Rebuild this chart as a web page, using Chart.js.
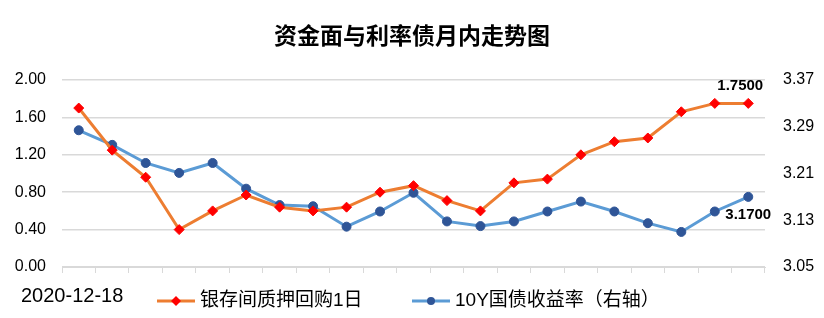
<!DOCTYPE html>
<html>
<head>
<meta charset="utf-8">
<script src="https://cdn.jsdelivr.net/npm/chart.js@4"></script>
<style>
  html, body { margin: 0; padding: 0; background: #fff; }
  #wrap { width: 824px; height: 318px; position: relative; }
</style>
</head>
<body>
<div id="wrap"><canvas id="chart" width="824" height="318"></canvas></div>
<script>
// 21 trading days (no labels shown on the axis)
const days = ['d1','d2','d3','d4','d5','d6','d7','d8','d9','d10','d11',
              'd12','d13','d14','d15','d16','d17','d18','d19','d20','d21'];
// 银存间质押回购1日 (left axis)
const repo = [1.70, 1.25, 0.96, 0.40, 0.60, 0.77, 0.64, 0.60, 0.64, 0.80, 0.87,
              0.71, 0.60, 0.90, 0.94, 1.20, 1.34, 1.38, 1.66, 1.75, 1.75];
// 10Y国债收益率 (right axis)
const bond = [3.284, 3.259, 3.228, 3.211, 3.228, 3.184, 3.156, 3.154, 3.119, 3.145, 3.177,
              3.128, 3.120, 3.128, 3.145, 3.162, 3.145, 3.125, 3.110, 3.145, 3.170];
const leftTicks = [0, 0.4, 0.8, 1.2, 1.6, 2.0];
const rightTicks = [3.05, 3.13, 3.21, 3.29, 3.37];
const title = '资金面与利率债月内走势图';
const dateText = '2020-12-18';
const seriesNames = ['银存间质押回购1日', '10Y国债收益率（右轴）'];

const cjk = '"Liberation Sans", "Noto Sans CJK SC", sans-serif';

const extras = {
  id: 'extras',
  afterDraw(chart) {
    const ctx = chart.ctx;
    ctx.save();
    // title
    ctx.fillStyle = '#000';
    ctx.font = 'bold 23px ' + cjk;
    ctx.textAlign = 'center';
    ctx.textBaseline = 'middle';
    ctx.fillText(title, 412, 38);

    // last value labels
    ctx.font = 'bold 15px ' + cjk;
    const m0 = chart.getDatasetMeta(0).data;
    const m1 = chart.getDatasetMeta(1).data;
    const p0 = m0[m0.length - 1], p1 = m1[m1.length - 1];
    ctx.fillText(repo[repo.length - 1].toFixed(4), p0.x - 8, p0.y - 18);
    ctx.fillText(bond[bond.length - 1].toFixed(4), p1.x, p1.y + 18);

    // date text
    ctx.font = '20px ' + cjk;
    ctx.textAlign = 'left';
    ctx.fillText(dateText, 21, 296);

    // legend
    const items = [
      {x: 157, line: '#ED7D31', mark: '#FF0000', style: 'rectRot', r: 5},
      {x: 412, line: '#5B9BD5', mark: '#2F5597', style: 'circle', r: 4}
    ];
    const ly = 301;
    items.forEach((it, i) => {
      ctx.strokeStyle = it.line;
      ctx.lineWidth = 3;
      ctx.beginPath();
      ctx.moveTo(it.x, ly);
      ctx.lineTo(it.x + 38, ly);
      ctx.stroke();
      ctx.fillStyle = it.mark;
      Chart.helpers.drawPoint(ctx, {pointStyle: it.style, radius: it.r, borderWidth: 0, rotation: 0}, it.x + 19, ly);
      ctx.fillStyle = '#000';
      ctx.font = '19px ' + cjk;
      ctx.textAlign = 'left';
      ctx.fillText(seriesNames[i], it.x + 43, ly);
    });
    ctx.restore();
  }
};

new Chart(document.getElementById('chart').getContext('2d'), {
  type: 'line',
  data: {
    labels: days,
    datasets: [{
      label: seriesNames[0],
      data: repo,
      yAxisID: 'y',
      borderColor: '#ED7D31',
      borderWidth: 3,
      pointStyle: 'rectRot',
      pointRadius: 5,
      pointBackgroundColor: '#FF0000',
      pointBorderColor: '#FF0000',
      pointBorderWidth: 1,
      tension: 0
    }, {
      label: seriesNames[1],
      data: bond,
      yAxisID: 'y2',
      borderColor: '#5B9BD5',
      borderWidth: 3,
      pointStyle: 'circle',
      pointRadius: 4.5,
      pointBackgroundColor: '#2F5597',
      pointBorderColor: '#2F5597',
      pointBorderWidth: 1,
      tension: 0
    }]
  },
  options: {
    responsive: false,
    animation: false,
    layout: { padding: { top: 80, left: 0, right: 0, bottom: 0 } },
    plugins: {
      legend: { display: false },
      title: { display: false },
      tooltip: { enabled: false }
    },
    scales: {
      x: {
        offset: true,
        grid: { drawOnChartArea: false, drawTicks: true, tickLength: 6, color: '#d9d9d9', offset: true },
        border: { display: true, color: '#d9d9d9' },
        ticks: { display: false },
        afterFit: s => { s.height = 51; }
      },
      y: {
        position: 'left',
        min: 0, max: 2,
        afterBuildTicks: s => { s.ticks = leftTicks.map(v => ({value: v})); },
        grid: { color: '#d9d9d9', lineWidth: 1.5, drawTicks: false },
        border: { display: false },
        ticks: {
          padding: 16,
          color: '#000',
          font: { size: 16, family: 'Liberation Sans' },
          callback: v => v.toFixed(2)
        },
        afterFit: s => { s.width = 62; }
      },
      y2: {
        position: 'right',
        min: 3.05, max: 3.37,
        afterBuildTicks: s => { s.ticks = rightTicks.map(v => ({value: v})); },
        grid: { drawOnChartArea: false, drawTicks: false },
        border: { display: false },
        ticks: {
          padding: 18,
          color: '#000',
          font: { size: 16, family: 'Liberation Sans' },
          callback: v => v.toFixed(2)
        },
        afterFit: s => { s.width = 59; }
      }
    }
  },
  plugins: [extras]
});
</script>
</body>
</html>
